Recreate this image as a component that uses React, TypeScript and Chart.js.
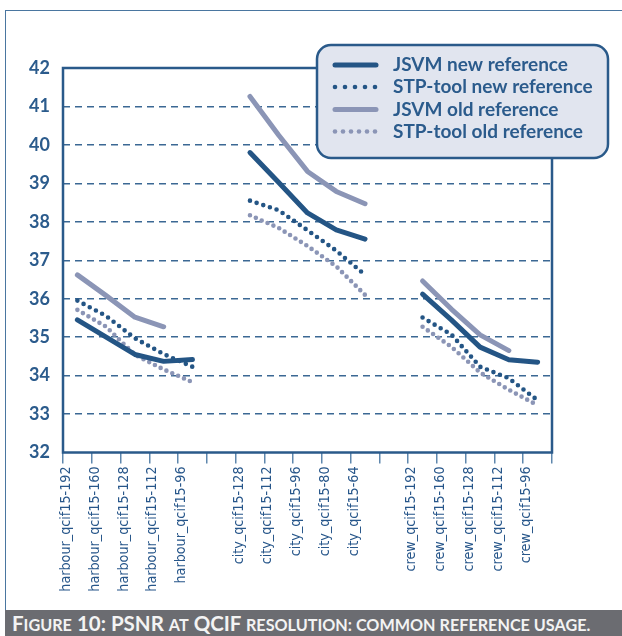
import React, { useEffect, useRef } from "react";
import { Chart, registerables } from "chart.js";

Chart.register(...registerables);

const categories = [
  "harbour_qcif15-192", "harbour_qcif15-160", "harbour_qcif15-128", "harbour_qcif15-112", "harbour_qcif15-96",
  "",
  "city_qcif15-128", "city_qcif15-112", "city_qcif15-96", "city_qcif15-80", "city_qcif15-64",
  "",
  "crew_qcif15-192", "crew_qcif15-160", "crew_qcif15-128", "crew_qcif15-112", "crew_qcif15-96",
];

const jsvmNew = [35.45, 35.0, 34.55, 34.37, 34.42, null, 39.8, 39.02, 38.23, 37.79, 37.55, null, 36.12, 35.45, 34.74, 34.41, 34.35];
const stpNew = [35.95, 35.55, 34.97, 34.56, 34.23, null, 38.55, 38.3, 37.78, 37.25, 36.62, null, 35.51, 35.07, 34.23, 33.93, 33.36];
const jsvmOld = [36.62, 36.08, 35.52, 35.27, null, null, 41.26, 40.25, 39.31, 38.79, 38.47, null, 36.46, 35.73, 35.06, 34.65, null];
const stpOld = [35.71, 35.27, 34.54, 34.16, 33.83, null, 38.17, 37.84, 37.37, 36.84, 36.1, null, 35.27, 34.75, 34.08, 33.63, 33.23];

const seriesNames = ["JSVM new reference", "STP-tool new reference", "JSVM old reference", "STP-tool old reference"];
const yMin = 32;
const yMax = 42;

// caption pieces: [text, isSmallCap]
const captionParts: [string, boolean][] = [
  ["F", false], ["igure", true], [" 10: PSNR ", false], ["at", true], [" QCIF ", false], ["resolution: common reference usage.", true],
];

const DARK = "#245585";
const LIGHT = "#8b95b6";
const TEXT = "#2b5b8c";

const framePlugin = {
  id: "frame",
  beforeDatasetsDraw(chart: any) {
    const { ctx, chartArea: a } = chart;
    ctx.save();
    ctx.strokeStyle = "#2a5a8a";
    ctx.lineWidth = 2.5;
    ctx.strokeRect(a.left, a.top, a.right - a.left, a.bottom - a.top);
    ctx.restore();
  },
};

const legendPlugin = {
  id: "customLegend",
  afterDraw(chart: any) {
    const ctx = chart.ctx;
    ctx.save();
    const x = 317, y = 45, w = 291, h = 113, r = 14;
    ctx.beginPath();
    ctx.roundRect(x, y, w, h, r);
    ctx.fillStyle = "#e1e5ef";
    ctx.fill();
    ctx.lineWidth = 2.5;
    ctx.strokeStyle = "#2a5a8a";
    ctx.stroke();
    const rows = [65, 87, 109.5, 131.5];
    const styles = [
      { color: DARK, dotted: false, n: 0 },
      { color: DARK, dotted: true, n: 5 },
      { color: LIGHT, dotted: false, n: 0 },
      { color: LIGHT, dotted: true, n: 6 },
    ];
    styles.forEach((s, i) => {
      const ry = rows[i];
      if (!s.dotted) {
        ctx.beginPath();
        ctx.moveTo(335, ry);
        ctx.lineTo(376, ry);
        ctx.lineWidth = 5;
        ctx.lineCap = "round";
        ctx.strokeStyle = s.color;
        ctx.stroke();
      } else {
        const step = 40 / (s.n - 1);
        ctx.fillStyle = s.color;
        for (let k = 0; k < s.n; k++) {
          ctx.beginPath();
          ctx.arc(335 + k * step, ry, 2.3, 0, Math.PI * 2);
          ctx.fill();
        }
      }
      ctx.fillStyle = TEXT;
      ctx.font = "bold 19px Lato, sans-serif";
      ctx.textBaseline = "middle";
      ctx.textAlign = "left";
      ctx.fillText(seriesNames[i], 393, ry);
    });
    ctx.restore();
  },
};

export default function App() {
  const ref = useRef<HTMLCanvasElement | null>(null);

  useEffect(() => {
    if (!ref.current) return;
    const chart = new Chart(ref.current, {
      type: "line",
      data: {
        labels: categories,
        datasets: [
          { label: seriesNames[0], data: jsvmNew, borderColor: DARK, borderWidth: 5, pointRadius: 0, borderCapStyle: "round", borderJoinStyle: "round", tension: 0 },
          { label: seriesNames[1], data: stpNew, borderColor: DARK, borderWidth: 4.6, borderDash: [0, 7], pointRadius: 0, borderCapStyle: "round", tension: 0 },
          { label: seriesNames[2], data: jsvmOld, borderColor: LIGHT, borderWidth: 5, pointRadius: 0, borderCapStyle: "round", borderJoinStyle: "round", tension: 0 },
          { label: seriesNames[3], data: stpOld, borderColor: LIGHT, borderWidth: 4.6, borderDash: [0, 6.4], pointRadius: 0, borderCapStyle: "round", tension: 0 },
        ] as any,
      },
      options: {
        animation: false,
        responsive: false,
        spanGaps: false,
        layout: { padding: { left: 0, top: 68, right: 70, bottom: 0 } },
        plugins: { legend: { display: false }, tooltip: { enabled: false } },
        scales: {
          x: {
            type: "category",
            offset: true,
            grid: { offset: true, drawOnChartArea: false, drawTicks: true, tickLength: 11, color: "#5f87ad", lineWidth: 1.5 },
            border: { display: false },
            ticks: {
              autoSkip: false,
              minRotation: 90,
              maxRotation: 90,
              labelOffset: -11,
              padding: 3,
              color: "#27568a",
              font: { family: '"Liberation Sans Narrow", "DejaVu Sans Condensed", sans-serif', size: 14.2 },
            },
            afterFit: (s: any) => { s.height = 157.5; },
          },
          y: {
            min: yMin,
            max: yMax,
            ticks: { stepSize: 1, padding: 13, color: TEXT, font: { family: "Lato, sans-serif", size: 18, weight: "bold" } },
            grid: {
              drawTicks: false,
              lineWidth: 1.5,
              color: (c: any) => (c.tick && (c.tick.value === yMin || c.tick.value === yMax) ? "rgba(0,0,0,0)" : "#3b6894"),
            },
            border: { display: false, dash: [7, 5] },
            afterFit: (s: any) => { s.width = 63; },
          },
        },
      } as any,
      plugins: [framePlugin, legendPlugin],
    });
    return () => chart.destroy();
  }, []);

  return (
    <div style={{ position: "absolute", left: 0, top: 0, width: 622, height: 636, background: "#fff", overflow: "hidden" }}>
      <div style={{ position: "absolute", left: 5, top: 10, right: -2, height: 600, borderLeft: "1.5px solid #4a76a0", borderTop: "1.5px solid #4a76a0", boxSizing: "border-box" }} />
      <canvas ref={ref} width={622} height={610} style={{ position: "absolute", left: 0, top: 0, width: 622, height: 610 }} />
      <div style={{ position: "absolute", left: 5, top: 610, width: 617, height: 26, background: "#6b6c71", color: "#f3f3f3", fontFamily: "Lato, sans-serif", fontWeight: "bold", fontSize: 20.5, lineHeight: "26px", paddingLeft: 7, boxSizing: "border-box", whiteSpace: "nowrap", overflow: "hidden" }}>
        {captionParts.map(([t, small], i) => (
          <span key={i} style={small ? { fontSize: 16.2, textTransform: "uppercase" } : undefined}>{t}</span>
        ))}
      </div>
    </div>
  );
}
